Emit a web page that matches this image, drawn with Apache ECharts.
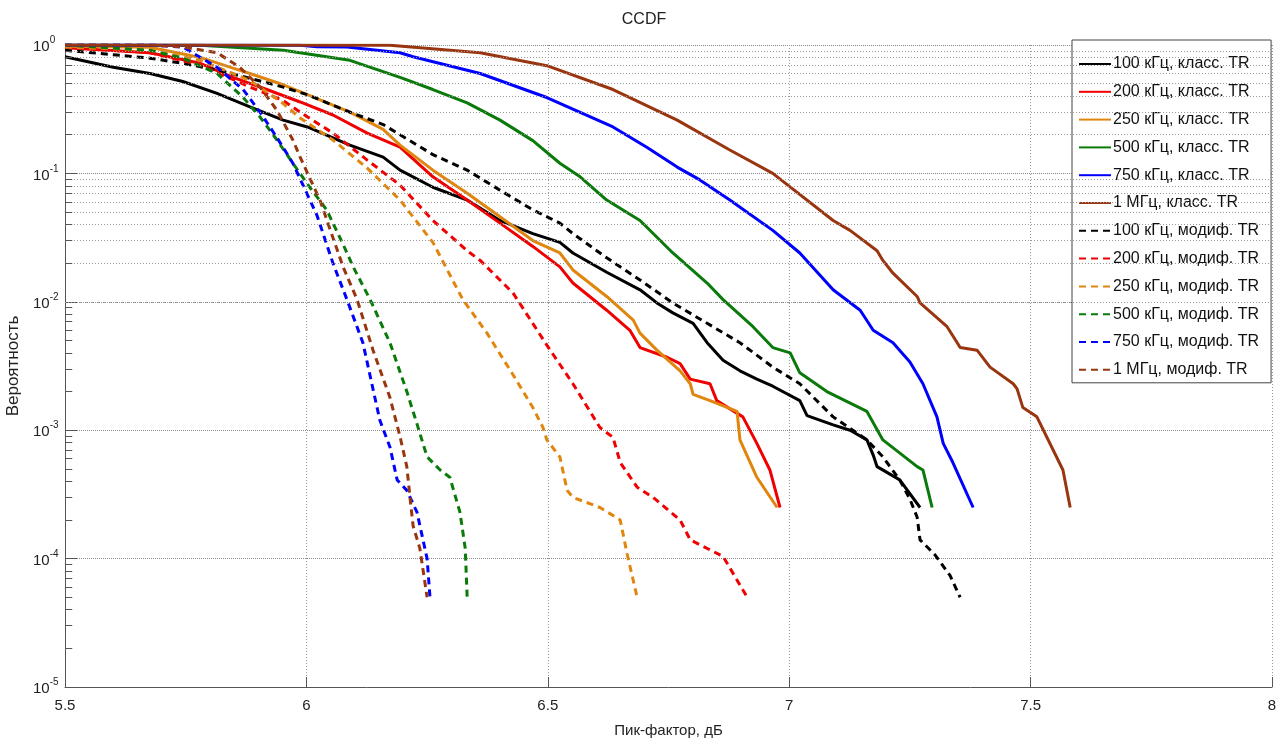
<!DOCTYPE html>
<html>
<head>
<meta charset="utf-8">
<script src="https://cdn.jsdelivr.net/npm/echarts@6.0.0/dist/echarts.min.js"></script>
<style>
html, body { margin: 0; padding: 0; background: #fff; }
#main { width: 1288px; height: 742px; }
</style>
</head>
<body>
<div id="main"></div>
<script>
// peak factor (dB) vs probability
var cls100 = [[5.5,0.81],[5.6,0.67],[5.676,0.6],[5.744,0.52],[5.815,0.42],[5.883,0.33],[5.952,0.26],[6.002,0.23],[6.09,0.166],[6.159,0.134],[6.194,0.106],[6.262,0.078],[6.333,0.062],[6.401,0.043],[6.469,0.034],[6.525,0.029],[6.552,0.024],[6.622,0.017],[6.691,0.0124],[6.726,0.0098],[6.759,0.0082],[6.801,0.0068],[6.83,0.0048],[6.863,0.0035],[6.898,0.0029],[6.933,0.0025],[6.966,0.0022],[7.022,0.0017],[7.037,0.0013],[7.091,0.0011],[7.126,0.001],[7.161,0.00084],[7.174,0.00064],[7.182,0.00052],[7.229,0.00041],[7.271,0.00025]];
var cls200 = [[5.5,0.95],[5.676,0.87],[5.78,0.72],[5.848,0.56],[5.918,0.45],[5.987,0.36],[6.055,0.285],[6.126,0.206],[6.194,0.16],[6.262,0.094],[6.333,0.062],[6.401,0.041],[6.469,0.027],[6.525,0.0187],[6.552,0.014],[6.622,0.0086],[6.67,0.006],[6.691,0.0044],[6.747,0.0037],[6.774,0.0033],[6.795,0.0025],[6.836,0.0023],[6.85,0.0017],[6.904,0.00127],[6.933,0.00079],[6.96,0.00049],[6.981,0.00025]];
var cls250 = [[5.5,0.98],[5.676,0.96],[5.78,0.8],[5.848,0.66],[5.883,0.6],[5.952,0.49],[6.002,0.41],[6.09,0.3],[6.159,0.22],[6.194,0.166],[6.262,0.106],[6.333,0.07],[6.401,0.046],[6.469,0.03],[6.525,0.024],[6.552,0.0177],[6.622,0.011],[6.677,0.0072],[6.691,0.0057],[6.726,0.0042],[6.774,0.0029],[6.795,0.0023],[6.801,0.0019],[6.836,0.0017],[6.892,0.0014],[6.898,0.00084],[6.933,0.00043],[6.975,0.00025]];
var cls500 = [[5.5,1],[5.78,0.995],[5.952,0.91],[6.09,0.76],[6.194,0.56],[6.262,0.45],[6.333,0.354],[6.401,0.26],[6.469,0.18],[6.525,0.12],[6.567,0.094],[6.622,0.062],[6.691,0.043],[6.759,0.024],[6.83,0.014],[6.863,0.0104],[6.925,0.0064],[6.966,0.0044],[7.002,0.004],[7.022,0.0028],[7.078,0.002],[7.161,0.0014],[7.194,0.00084],[7.265,0.00052],[7.277,0.00049],[7.296,0.00025]];
var cls750 = [[5.5,1],[5.987,0.995],[6.022,0.97],[6.084,0.965],[6.194,0.87],[6.221,0.81],[6.36,0.6],[6.498,0.39],[6.635,0.23],[6.705,0.16],[6.768,0.112],[6.815,0.089],[6.877,0.062],[6.966,0.036],[7.022,0.024],[7.091,0.0124],[7.147,0.0086],[7.174,0.006],[7.215,0.0048],[7.25,0.0034],[7.277,0.0023],[7.306,0.00127],[7.319,0.00079],[7.339,0.00056],[7.381,0.00025]];
var cls1M = [[5.5,1],[6.173,0.995],[6.36,0.87],[6.498,0.69],[6.635,0.45],[6.768,0.26],[6.877,0.152],[6.966,0.1],[7.091,0.043],[7.126,0.036],[7.182,0.025],[7.194,0.021],[7.215,0.0167],[7.265,0.011],[7.271,0.0098],[7.327,0.0064],[7.348,0.0048],[7.354,0.0044],[7.389,0.0042],[7.416,0.0031],[7.464,0.0023],[7.472,0.0021],[7.484,0.0015],[7.513,0.00127],[7.567,0.00049],[7.582,0.00025]];

var mod100 = [[5.5,0.91],[5.6,0.84],[5.676,0.79],[5.744,0.72],[5.815,0.64],[5.883,0.55],[5.952,0.47],[6.002,0.41],[6.09,0.3],[6.159,0.24],[6.194,0.2],[6.262,0.14],[6.333,0.106],[6.401,0.074],[6.469,0.052],[6.525,0.041],[6.552,0.034],[6.622,0.022],[6.691,0.0148],[6.759,0.0098],[6.83,0.0068],[6.898,0.0048],[6.966,0.0031],[7.022,0.0023],[7.091,0.00127],[7.161,0.00084],[7.194,0.00062],[7.229,0.00041],[7.25,0.00029],[7.265,0.00021],[7.271,0.00014],[7.302,0.000107],[7.333,0.000074],[7.354,0.00005]];
var mod200 = [[5.5,0.965],[5.676,0.87],[5.78,0.7],[5.883,0.47],[5.952,0.37],[5.987,0.3],[6.055,0.206],[6.126,0.127],[6.194,0.081],[6.262,0.043],[6.333,0.025],[6.36,0.021],[6.428,0.0117],[6.498,0.0046],[6.552,0.0023],[6.608,0.00105],[6.635,0.00088],[6.65,0.00056],[6.685,0.00036],[6.718,0.0003],[6.774,0.0002],[6.795,0.00014],[6.863,0.000104],[6.913,0.00005]];
var mod250 = [[5.5,0.965],[5.676,0.91],[5.78,0.76],[5.883,0.53],[5.952,0.35],[5.987,0.27],[6.055,0.182],[6.126,0.11],[6.194,0.062],[6.262,0.029],[6.324,0.0104],[6.374,0.0057],[6.428,0.0027],[6.469,0.0015],[6.49,0.00105],[6.498,0.00084],[6.525,0.00062],[6.54,0.00034],[6.552,0.0003],[6.608,0.00025],[6.65,0.0002],[6.664,0.00011],[6.685,0.00005]];
var mod500 = [[5.5,1],[5.676,0.91],[5.744,0.79],[5.815,0.6],[5.869,0.39],[5.904,0.275],[5.939,0.182],[5.972,0.12],[6.007,0.078],[6.042,0.052],[6.076,0.028],[6.097,0.0187],[6.132,0.0104],[6.173,0.0048],[6.208,0.002],[6.229,0.00112],[6.25,0.00062],[6.277,0.00049],[6.297,0.00043],[6.318,0.00023],[6.329,0.00012],[6.333,0.00005]];
var mod750 = [[5.5,1],[5.676,1],[5.744,0.965],[5.815,0.67],[5.869,0.45],[5.904,0.3],[5.939,0.19],[5.972,0.12],[5.993,0.081],[6.022,0.047],[6.055,0.02],[6.084,0.0104],[6.117,0.0048],[6.152,0.0012],[6.173,0.00074],[6.188,0.00041],[6.208,0.00034],[6.229,0.00023],[6.25,0.0001],[6.256,0.00005]];
var mod1M = [[5.5,1],[5.676,1],[5.744,0.965],[5.815,0.87],[5.862,0.67],[5.904,0.47],[5.939,0.31],[5.972,0.182],[5.987,0.134],[6.028,0.062],[6.076,0.0187],[6.105,0.0104],[6.138,0.0042],[6.173,0.0018],[6.194,0.00089],[6.208,0.00052],[6.215,0.00029],[6.221,0.00018],[6.235,0.00012],[6.25,0.00005]];

var seriesNames = ['100 кГц, класс. TR', '200 кГц, класс. TR', '250 кГц, класс. TR', '500 кГц, класс. TR', '750 кГц, класс. TR', '1 МГц, класс. TR',
                   '100 кГц, модиф. TR', '200 кГц, модиф. TR', '250 кГц, модиф. TR', '500 кГц, модиф. TR', '750 кГц, модиф. TR', '1 МГц, модиф. TR'];
var seriesData = [cls100, cls200, cls250, cls500, cls750, cls1M, mod100, mod200, mod250, mod500, mod750, mod1M];
var lineColors = ['#000000', '#f00000', '#e0860f', '#0a7a0a', '#0000ff', '#99350f'];

var series = [];
for (var i = 0; i < seriesData.length; i++) {
    series.push({
        name: seriesNames[i],
        type: 'line',
        data: seriesData[i],
        symbol: 'none',
        showSymbol: false,
        lineStyle: {
            color: lineColors[i % 6],
            width: 3,
            type: i < 6 ? 'solid' : [7, 5]
        },
        itemStyle: { color: lineColors[i % 6] },
        z: 3
    });
}

// minor log grid (2..9 x 10^k) and the short minor ticks on the left axis
var minorLines = [];
var minorTicks = [];
for (var k = -5; k < 0; k++) {
    for (var m = 2; m <= 9; m++) {
        var v = m * Math.pow(10, k);
        minorLines.push({ yAxis: v });
        minorTicks.push([{ coord: [5.5, v] }, { coord: [5.515, v] }]);
    }
}
series.push({
    type: 'line',
    data: [],
    z: 1,
    markLine: {
        silent: true,
        symbol: 'none',
        label: { show: false },
        animation: false,
        lineStyle: { type: [1, 2], color: '#9a9a9a', width: 1 },
        data: minorLines
    }
});
series.push({
    type: 'line',
    data: [],
    z: 2,
    markLine: {
        silent: true,
        symbol: 'none',
        label: { show: false },
        animation: false,
        lineStyle: { type: 'solid', color: '#555', width: 1 },
        data: minorTicks
    }
});

var option = {
    animation: false,
    backgroundColor: '#fff',
    textStyle: { fontFamily: 'Liberation Sans, Arial, sans-serif' },
    title: {
        text: 'CCDF',
        left: 'center',
        top: 7,
        textStyle: { fontSize: 16, fontWeight: 'normal', color: '#222' }
    },
    grid: { left: 65, right: 16, top: 45, bottom: 55, containLabel: false, outerBoundsMode: 'none' },
    legend: {
        orient: 'vertical',
        left: 1072,
        top: 40,
        data: seriesNames,
        itemWidth: 32,
        itemHeight: 14,
        itemGap: 11.8,
        padding: [16, 12, 5, 6],
        backgroundColor: '#fff',
        borderColor: '#444',
        borderWidth: 1,
        itemStyle: { opacity: 0 },
        textStyle: { fontSize: 16, lineHeight: 14, color: '#111', padding: [0, 0, 0, -3] }
    },
    xAxis: {
        type: 'value',
        min: 5.5,
        max: 8,
        interval: 0.5,
        name: 'Пик-фактор, дБ',
        nameLocation: 'middle',
        nameGap: 36,
        nameTextStyle: { fontSize: 15, color: '#222' },
        axisLine: { lineStyle: { color: '#555' } },
        axisTick: { inside: true, length: 10, lineStyle: { color: '#555' } },
        axisLabel: { fontSize: 15, color: '#222', margin: 11 },
        splitLine: { show: true, lineStyle: { type: [1, 2], color: '#9a9a9a' } }
    },
    yAxis: {
        type: 'log',
        logBase: 10,
        min: 1e-5,
        max: 1,
        name: 'Вероятность',
        nameLocation: 'middle',
        nameGap: 37,
        nameTextStyle: { fontSize: 17, color: '#222' },
        axisLine: { show: true, lineStyle: { color: '#555' } },
        axisTick: { show: true, inside: true, length: 12, lineStyle: { color: '#555' } },
        axisLabel: {
            margin: 32,
            align: 'left',
            formatter: function (v) {
                var e = Math.round(Math.log10(v));
                return '{b|10}{e|' + e + '}';
            },
            rich: {
                b: { fontSize: 15, color: '#222', verticalAlign: 'bottom' },
                e: { fontSize: 10, color: '#222', verticalAlign: 'top', padding: [0, 0, 9, 0] }
            }
        },
        splitLine: { show: true, lineStyle: { type: [1, 1], color: '#8a8a8a' } }
    },
    series: series
};

var chart = echarts.init(document.getElementById('main'));
chart.setOption(option);
</script>
</body>
</html>
